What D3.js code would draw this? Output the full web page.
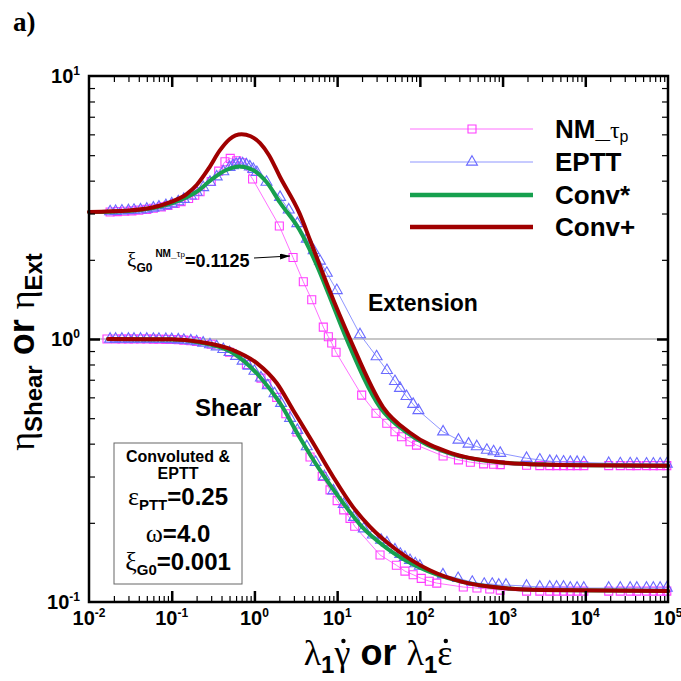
<!DOCTYPE html>
<html>
<head>
<meta charset="utf-8">
<script src="https://cdn.jsdelivr.net/npm/d3@7"></script>
<style>
  body { margin: 0; background: #fff; }
  svg { display: block; }
  text { font-family: "Liberation Sans", Arial, sans-serif; font-weight: bold; fill: #000; }
  .greek { font-family: "Liberation Serif", "Times New Roman", serif; font-weight: normal; }
  .tag { font-family: "Liberation Serif", "Times New Roman", serif; font-weight: bold; }
  .plain { font-weight: normal; }
</style>
</head>
<body>
<svg id="chart" width="681" height="681"></svg>
<script>
// ---- data: [rate, viscosity] pairs -------------------------------------
const nmExt = [
  [0.018,3.04],[0.022,3.05],[0.027,3.06],[0.033,3.07],[0.04,3.09],[0.05,3.11],[0.06,3.14],
  [0.075,3.18],[0.09,3.22],[0.11,3.28],[0.13,3.33],[0.16,3.42],[0.19,3.52],[0.22,3.63],
  [0.3,3.97],[0.37,4.35],[0.44,4.72],[0.51,4.86],[0.61,4.76],[0.70,4.68],[0.95,4.06],
  [2.0,2.69],[2.93,2.04],[3.9,1.65],[4.93,1.41],[6.8,1.11],[7.83,1.02],[8.6,0.965],[9.7,0.89],
  [19.8,0.612],[29.5,0.522],[39.8,0.478],[50,0.444],[60,0.425],[76,0.407],[91,0.395],
  [191,0.359],[293,0.347],[408,0.34],[590,0.335],[779,0.334],[937,0.333],[1950,0.331],
  [2820,0.33],[3720,0.33],[4500,0.33],[5460,0.33],[6590,0.33],[7960,0.33],[9600,0.33],
  [19200,0.33],[26500,0.33],[34900,0.33],[42000,0.33],[55000,0.33],[66500,0.33],[80400,0.33],[96700,0.33]
];
const nmShear = [
  [0.0165,1.0],[0.021,1.0],[0.025,1.0],[0.03,1.0],[0.035,1.0],[0.042,1.0],[0.05,1.0],[0.06,0.999],
  [0.07,0.998],[0.085,0.997],[0.1,0.995],[0.12,0.993],[0.14,0.99],[0.17,0.985],[0.2,0.978],
  [0.3,0.955],[0.5,0.89],[0.8,0.8],[1.2,0.71],[1.41,0.675],[1.86,0.6],[2.4,0.52],[3.27,0.443],
  [4.7,0.356],[6.6,0.3],[8.2,0.267],[10,0.243],[12,0.224],[14.3,0.208],[16.3,0.194],[33,0.151],
  [52,0.138],[66,0.131],[83,0.127],[104,0.123],[130,0.12],[160,0.118],[335,0.114],[490,0.113],
  [700,0.112],[937,0.111],[1950,0.11],[2820,0.11],[3720,0.11],[4500,0.11],[5460,0.11],[6590,0.11],
  [7960,0.11],[9600,0.11],[19200,0.11],[26500,0.11],[34900,0.11],[42000,0.11],[55000,0.11],
  [66500,0.11],[80400,0.11],[96700,0.11]
];
const epttExt = [
  [0.018,3.05],[0.021,3.06],[0.025,3.07],[0.03,3.08],[0.035,3.09],[0.042,3.1],[0.05,3.12],[0.06,3.15],
  [0.07,3.18],[0.085,3.22],[0.1,3.27],[0.12,3.33],[0.14,3.4],[0.17,3.5],[0.2,3.62],[0.24,3.77],
  [0.29,3.95],[0.35,4.14],[0.42,4.33],[0.5,4.5],[0.55,4.57],[0.6,4.62],[0.66,4.65],[0.72,4.64],
  [0.8,4.6],[0.88,4.52],[0.97,4.42],[1.07,4.3],[1.4,3.95],[2.04,3.46],[2.6,3.1],[3.3,2.75],
  [4.3,2.4],[5.2,2.17],[6.2,1.98],[7.5,1.78],[9.9,1.53],[18.9,1.04],[30,0.857],[40,0.76],
  [50,0.69],[57.5,0.65],[69,0.605],[83,0.565],[96,0.535],[191,0.444],[293,0.413],[388,0.399],
  [488,0.39],[646,0.378],[779,0.373],[937,0.368],[1950,0.352],[2820,0.347],[3720,0.343],
  [4500,0.342],[5460,0.341],[6590,0.34],[7960,0.34],[9600,0.339],[19200,0.337],[26500,0.336],
  [34900,0.336],[42000,0.335],[55000,0.335],[66500,0.335],[80400,0.335],[96700,0.335]
];
const epttShear = [
  [0.018,1.0],[0.021,1.0],[0.025,1.0],[0.03,1.0],[0.035,1.0],[0.042,1.0],[0.05,1.0],[0.06,0.999],
  [0.07,0.999],[0.085,0.998],[0.1,0.996],[0.12,0.994],[0.14,0.99],[0.17,0.985],[0.2,0.977],
  [0.24,0.966],[0.29,0.952],[0.35,0.935],[0.42,0.913],[0.5,0.89],[0.6,0.86],[0.72,0.825],
  [0.85,0.79],[1.0,0.755],[1.2,0.712],[1.45,0.665],[1.75,0.62],[2.1,0.57],[2.7,0.5],[3.3,0.45],
  [4.3,0.39],[5.5,0.34],[7,0.3],[9,0.265],[12,0.235],[16,0.21],[21,0.19],[27,0.18],[34,0.172],
  [40,0.168],[50,0.158],[58,0.152],[66,0.148],[76,0.144],[88,0.14],[100,0.137],[190,0.127],
  [290,0.123],[430,0.119],[600,0.117],[750,0.117],[900,0.116],[1100,0.116],[1950,0.115],
  [2820,0.114],[3720,0.114],[4500,0.114],[5460,0.114],[6590,0.113],[7960,0.113],[9600,0.113],
  [19200,0.113],[26500,0.113],[34900,0.113],[42000,0.113],[55000,0.113],[66500,0.113],
  [80400,0.113],[96700,0.113]
];
const convStarExt = [
  [0.01,3.04],[0.03,3.07],[0.06,3.15],[0.1,3.28],[0.15,3.45],[0.2,3.63],[0.316,4.08],[0.45,4.38],
  [0.66,4.53],[0.96,4.39],[1.4,3.95],[2.04,3.3],[3.5,2.6],[5.7,1.9],[7.76,1.5],[13,1.0],
  [33,0.55],[70,0.44],[220,0.369],[900,0.34],[3000,0.333],[10000,0.331],[100000,0.33]
];
const convStarShear = [
  [0.017,1.0],[0.1,0.995],[0.22,0.97],[0.55,0.885],[1.17,0.717],[2.04,0.57],[3.5,0.424],
  [6.2,0.317],[11.8,0.238],[20,0.193],[40,0.16],[100,0.135],[300,0.12],[1000,0.113],
  [3000,0.111],[100000,0.11]
];
const convPlusExt = [
  [0.01,3.04],[0.03,3.08],[0.06,3.17],[0.1,3.33],[0.15,3.55],[0.2,3.85],[0.28,4.45],[0.38,5.2],
  [0.5,5.75],[0.7,6.0],[0.9,5.9],[1.17,5.56],[1.5,5.0],[2.04,4.13],[3.5,3.01],[4.7,2.38],
  [7.76,1.58],[14.3,1.0],[36,0.55],[76,0.44],[234,0.369],[940,0.34],[3000,0.333],[10000,0.331],[100000,0.33]
];
const convPlusShear = [
  [0.017,1.0],[0.1,0.997],[0.22,0.975],[0.55,0.908],[1.07,0.81],[1.86,0.68],[2.93,0.537],
  [5.1,0.403],[8.9,0.30],[15.5,0.23],[25,0.193],[52,0.158],[132,0.132],[335,0.119],
  [1000,0.113],[3000,0.111],[100000,0.11]
];

// axis decades
const xExponents = [-2, -1, 0, 1, 2, 3, 4, 5];
const yExponents = [-1, 0, 1];

// legend entries
const legendKeys = ["nm", "eptt", "convStar", "convPlus"];
const legendNames = ["NM_", "EPTT", "Conv*", "Conv+"];

// ---- layout ------------------------------------------------------------
const W = 681, H = 681;
const frame = { left: 89, right: 668, top: 76, bottom: 602 };
const colors = { nm: "#ff3cff", nmLine: "#ff70ff", eptt: "#6a6aff", epttLine: "#8f96ff",
                 convStar: "#16a04e", convPlus: "#a00000" };

const svg = d3.select("#chart");
svg.append("rect").attr("width", W).attr("height", H).attr("fill", "#fff");

const x = d3.scaleLog().domain([1e-2, 1e5]).range([frame.left, frame.right]);
const y = d3.scaleLog().domain([1e-1, 1e1]).range([frame.bottom, frame.top]);

const xMajor = xExponents.map(e => Math.pow(10, e));
const yMajor = yExponents.map(e => Math.pow(10, e));
const minorOf = exps => exps.slice(0, -1).flatMap(e => d3.range(2, 10).map(d => d * Math.pow(10, e)));
const xMinor = minorOf(xExponents);
const yMinor = minorOf(yExponents);

// reference line at unit viscosity
svg.append("line")
  .attr("x1", frame.left).attr("x2", frame.right).attr("y1", y(1)).attr("y2", y(1))
  .attr("stroke", "#b4b4b4").attr("stroke-width", 1.5);

// ---- series ------------------------------------------------------------
const plot = svg.append("g");
const straight = d3.line().x(d => x(d[0])).y(d => y(d[1]));
const smooth = d3.line().x(d => x(d[0])).y(d => y(d[1])).curve(d3.curveMonotoneX);

const squarePath = d3.symbol().type(d3.symbolSquare).size(64);
const trianglePath = d3.symbol().type(d3.symbolTriangle).size(52);

function markerSeries(data, lineColor, markColor, symbolPath) {
  plot.append("path").datum(data).attr("d", straight)
    .attr("fill", "none").attr("stroke", lineColor).attr("stroke-width", 1);
  plot.append("g").selectAll("path").data(data).join("path")
    .attr("transform", d => `translate(${x(d[0])},${y(d[1])})`)
    .attr("d", symbolPath)
    .attr("fill", "none").attr("stroke", markColor).attr("stroke-width", 1.1);
}
markerSeries(nmExt, colors.nmLine, colors.nm, squarePath);
markerSeries(nmShear, colors.nmLine, colors.nm, squarePath);
markerSeries(epttExt, colors.epttLine, colors.eptt, trianglePath);
markerSeries(epttShear, colors.epttLine, colors.eptt, trianglePath);

function curveSeries(data, color) {
  plot.append("path").datum(data).attr("d", smooth)
    .attr("fill", "none").attr("stroke", color).attr("stroke-width", 4)
    .attr("stroke-linejoin", "round").attr("stroke-linecap", "round");
}
curveSeries(convStarExt, colors.convStar);
curveSeries(convStarShear, colors.convStar);
curveSeries(convPlusExt, colors.convPlus);
curveSeries(convPlusShear, colors.convPlus);

// ---- axes (inward ticks on all four sides) -------------------------------
function tickAxis(axisFn, scale, values, size, width, transform) {
  const g = svg.append("g").attr("transform", transform)
    .call(axisFn(scale).tickValues(values).tickSize(-size).tickFormat(""));
  g.select(".domain").remove();
  g.selectAll(".tick line").attr("stroke", "#000").attr("stroke-width", width);
}
[[d3.axisBottom, `translate(0,${frame.bottom})`], [d3.axisTop, `translate(0,${frame.top})`]].forEach(([fn, tr]) => {
  tickAxis(fn, x, xMinor, 6, 1.2, tr);
  tickAxis(fn, x, xMajor.slice(1, -1), 11, 2.5, tr);
});
[[d3.axisLeft, `translate(${frame.left},0)`], [d3.axisRight, `translate(${frame.right},0)`]].forEach(([fn, tr]) => {
  tickAxis(fn, y, yMinor, 6, 1.2, tr);
  tickAxis(fn, y, yMajor.slice(1, -1), 11, 2.5, tr);
});

svg.append("rect")
  .attr("x", frame.left).attr("y", frame.top)
  .attr("width", frame.right - frame.left).attr("height", frame.bottom - frame.top)
  .attr("fill", "none").attr("stroke", "#000").attr("stroke-width", 2.5);

// tick labels: 10 with a raised exponent
function powerLabel(sel, e) {
  sel.append("tspan").text("10");
  sel.append("tspan").attr("font-size", 12).attr("dy", -8).text(String(e));
}
xExponents.forEach(e => {
  const t = svg.append("text").attr("x", x(Math.pow(10, e))).attr("y", 625)
    .attr("text-anchor", "middle").attr("font-size", 20);
  powerLabel(t, e);
});
yExponents.forEach(e => {
  const t = svg.append("text").attr("x", 80).attr("y", y(Math.pow(10, e)) + 7)
    .attr("text-anchor", "end").attr("font-size", 20);
  powerLabel(t, e);
});

// axis titles
const xt = svg.append("text").attr("x", 378).attr("y", 665).attr("text-anchor", "middle").attr("font-size", 36);
xt.append("tspan").attr("class", "greek").text("λ");
xt.append("tspan").attr("font-size", 24).attr("dy", 8).text("1");
xt.append("tspan").attr("class", "greek").attr("dy", -8).text("γ");
xt.append("tspan").text(" or ");
xt.append("tspan").attr("class", "greek").text("λ");
xt.append("tspan").attr("font-size", 24).attr("dy", 8).text("1");
xt.append("tspan").attr("class", "greek").attr("dy", -8).text("ε");
// overdots on the rate symbols (characters 2 and 9 of the title)
[2, 9].forEach(ci => {
  const box = xt.node().getExtentOfChar(ci);
  svg.append("circle").attr("cx", box.x + box.width / 2 + 1).attr("cy", 641).attr("r", 2.2).attr("fill", "#000");
});

const yt = svg.append("text").attr("transform", "translate(34,352) rotate(-90)")
  .attr("text-anchor", "middle").attr("font-size", 36);
yt.append("tspan").attr("class", "greek").text("η");
yt.append("tspan").attr("font-size", 24).attr("dy", 8).text("Shear");
yt.append("tspan").attr("dy", -8).text(" or ");
yt.append("tspan").attr("class", "greek").text("η");
yt.append("tspan").attr("font-size", 24).attr("dy", 8).text("Ext");

// panel tag
svg.append("text").attr("class", "tag").attr("x", 13).attr("y", 31).attr("font-size", 27).text("a)");

// ---- legend ------------------------------------------------------------
const legendRowY = [129, 162, 195, 227];
legendKeys.forEach((k, i) => {
  const ly = legendRowY[i];
  const g = svg.append("g");
  if (k === "nm" || k === "eptt") {
    g.append("line").attr("x1", 410).attr("x2", 533).attr("y1", ly).attr("y2", ly)
      .attr("stroke", k === "nm" ? colors.nmLine : colors.epttLine).attr("stroke-width", 1);
    g.append("path").attr("transform", `translate(472,${ly})`)
      .attr("d", k === "nm" ? squarePath : trianglePath)
      .attr("fill", "none").attr("stroke", colors[k]).attr("stroke-width", 1.1);
  } else {
    g.append("line").attr("x1", 410).attr("x2", 533).attr("y1", ly).attr("y2", ly)
      .attr("stroke", colors[k]).attr("stroke-width", 4.5);
  }
  const t = g.append("text").attr("x", 555).attr("y", ly + 9).attr("font-size", 26);
  t.append("tspan").text(legendNames[i]);
  if (k === "nm") {
    t.append("tspan").attr("class", "greek").attr("font-size", 24).text("τ");
    t.append("tspan").attr("class", "plain").attr("font-size", 16).attr("dy", 4).text("p");
  }
});

// ---- annotations -------------------------------------------------------
svg.append("text").attr("x", 368).attr("y", 311).attr("font-size", 23).text("Extension");
svg.append("text").attr("x", 195).attr("y", 416).attr("font-size", 24).text("Shear");

const ann = svg.append("text").attr("x", 127).attr("y", 267).attr("font-size", 18);
ann.append("tspan").attr("class", "greek").attr("font-size", 21).text("ξ");
ann.append("tspan").attr("font-size", 12).attr("dy", 5).text("G0");
ann.append("tspan").attr("font-size", 10).attr("dy", -15).attr("dx", 3).text("NM_");
ann.append("tspan").attr("class", "greek").attr("font-size", 10).text("τ");
ann.append("tspan").attr("class", "plain").attr("font-size", 8).text("p");
ann.append("tspan").attr("dy", 10).text("=0.1125");

svg.append("defs").append("marker")
  .attr("id", "arrowhead").attr("viewBox", "0 0 10 6").attr("refX", 10).attr("refY", 3)
  .attr("markerWidth", 10).attr("markerHeight", 6).attr("markerUnits", "userSpaceOnUse")
  .attr("orient", "auto")
  .append("path").attr("d", "M0,0 L10,3 L0,6 Z").attr("fill", "#000");
svg.append("line").attr("x1", 254).attr("y1", 258).attr("x2", 290).attr("y2", 256)
  .attr("stroke", "#000").attr("stroke-width", 1).attr("marker-end", "url(#arrowhead)");

// parameter box
svg.append("rect").attr("x", 114).attr("y", 443).attr("width", 128).attr("height", 141)
  .attr("fill", "#fff").attr("stroke", "#666").attr("stroke-width", 1);
const bx = 178;
svg.append("text").attr("x", bx).attr("y", 462).attr("text-anchor", "middle").attr("font-size", 16).text("Convoluted &");
svg.append("text").attr("x", bx).attr("y", 479).attr("text-anchor", "middle").attr("font-size", 16).text("EPTT");
const p1 = svg.append("text").attr("x", bx).attr("y", 505).attr("text-anchor", "middle").attr("font-size", 24);
p1.append("tspan").attr("class", "greek").attr("font-size", 26).text("ε");
p1.append("tspan").attr("font-size", 15).attr("dy", 5).text("PTT");
p1.append("tspan").attr("dy", -5).text("=0.25");
const p2 = svg.append("text").attr("x", bx).attr("y", 542).attr("text-anchor", "middle").attr("font-size", 24);
p2.append("tspan").attr("class", "greek").attr("font-size", 26).text("ω");
p2.append("tspan").text("=4.0");
const p3 = svg.append("text").attr("x", bx).attr("y", 570).attr("text-anchor", "middle").attr("font-size", 24);
p3.append("tspan").attr("class", "greek").attr("font-size", 26).text("ξ");
p3.append("tspan").attr("font-size", 15).attr("dy", 5).text("G0");
p3.append("tspan").attr("dy", -5).text("=0.001");
</script>
</body>
</html>
